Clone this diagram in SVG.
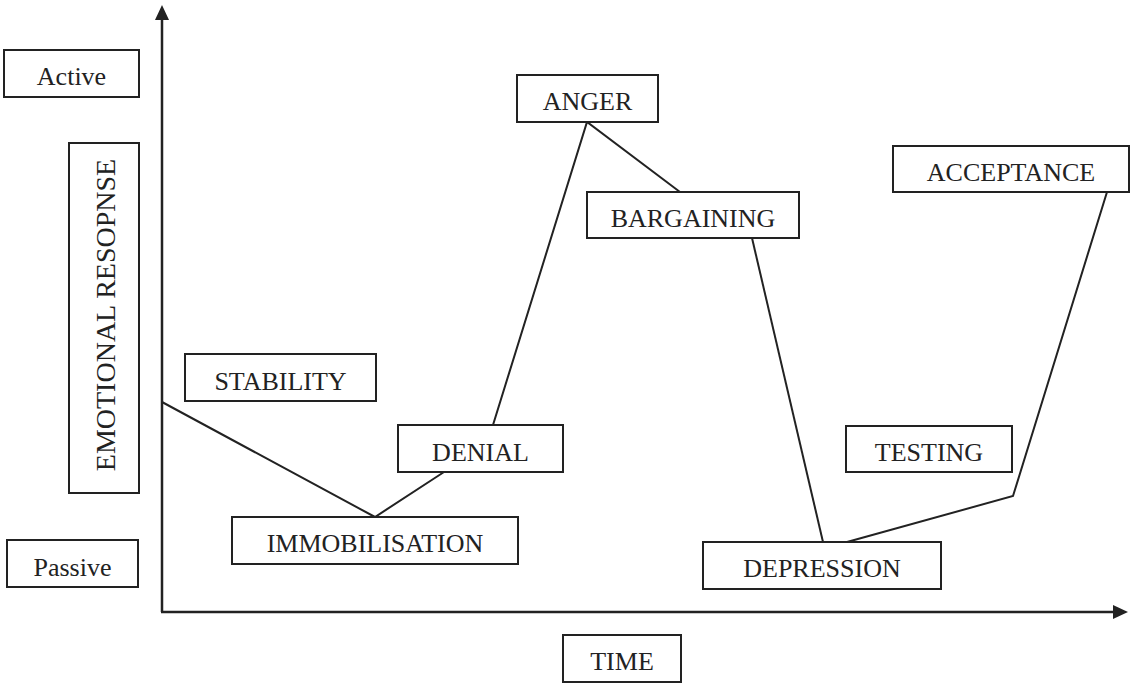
<svg xmlns="http://www.w3.org/2000/svg" width="1136" height="684" viewBox="0 0 1136 684">
<style>
.box{fill:#fff;stroke:#222;stroke-width:2}
.lbl{font-family:"Liberation Serif","Times New Roman",serif;font-size:26px;fill:#222;text-anchor:middle}
.ln{fill:none;stroke:#222;stroke-width:2;stroke-linejoin:miter}
.ax{fill:none;stroke:#222;stroke-width:2.5}
.ah{fill:#222;stroke:none}
</style>
<rect width="1136" height="684" fill="#fff"/>
<g id="axes">
<line class="ax" x1="162" y1="612" x2="162" y2="16"/>
<polygon class="ah" points="162,5 155,20 169,20"/>
<line class="ax" x1="161" y1="612" x2="1116" y2="612"/>
<polygon class="ah" points="1128,612 1113,605 1113,619"/>
</g>
<g id="connectors">
<polyline class="ln" points="162,402 375,517 444,472"/>
<polyline class="ln" points="493,425 587,122 680,192"/>
<polyline class="ln" points="752,238 823,542"/>
<polyline class="ln" points="847,542 1013,496 1107,192"/>
</g>
<g id="active"><rect class="box" x="4" y="50" width="135" height="47"/><text class="lbl" x="71.5" y="85">Active</text></g>
<g id="emotional-response"><rect class="box" x="69" y="143" width="70" height="350"/><text class="lbl" transform="translate(115,315) rotate(-90)" style="font-size:28px">EMOTIONAL RESOPNSE</text></g>
<g id="passive"><rect class="box" x="7" y="540" width="131" height="47"/><text class="lbl" x="72.5" y="576">Passive</text></g>
<g id="stability"><rect class="box" x="185" y="354" width="191" height="47"/><text class="lbl" x="280.5" y="390">STABILITY</text></g>
<g id="immobilisation"><rect class="box" x="232" y="517" width="286" height="47"/><text class="lbl" x="375" y="552">IMMOBILISATION</text></g>
<g id="denial"><rect class="box" x="398" y="425" width="165" height="47"/><text class="lbl" x="480.5" y="461">DENIAL</text></g>
<g id="anger"><rect class="box" x="517" y="75" width="141" height="47"/><text class="lbl" x="587.5" y="110">ANGER</text></g>
<g id="bargaining"><rect class="box" x="587" y="192" width="212" height="46"/><text class="lbl" x="693" y="227">BARGAINING</text></g>
<g id="depression"><rect class="box" x="703" y="542" width="238" height="47"/><text class="lbl" x="822" y="577">DEPRESSION</text></g>
<g id="testing"><rect class="box" x="846" y="426" width="166" height="46"/><text class="lbl" x="929" y="461">TESTING</text></g>
<g id="acceptance"><rect class="box" x="893" y="146" width="236" height="46"/><text class="lbl" x="1011" y="181">ACCEPTANCE</text></g>
<g id="time"><rect class="box" x="563" y="635" width="118" height="47"/><text class="lbl" x="622" y="670">TIME</text></g>
</svg>
